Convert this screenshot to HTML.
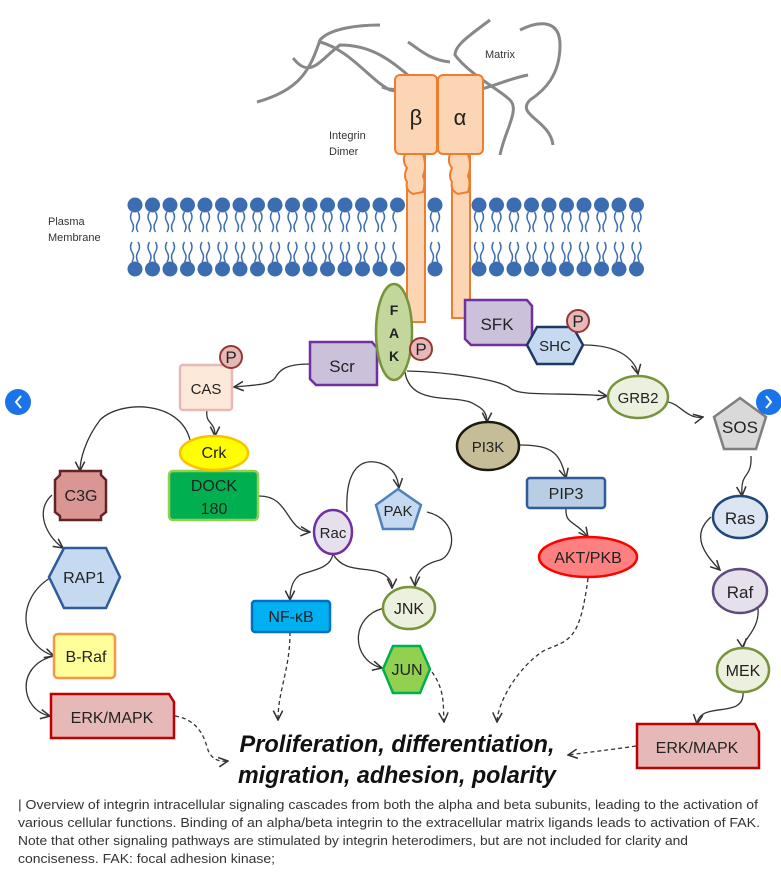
<!DOCTYPE html>
<html><head><meta charset="utf-8"><style>
html,body{margin:0;padding:0;background:#fff;}
svg{display:block;font-family:"Liberation Sans",sans-serif;}
</style></head><body>
<svg width="781" height="885" viewBox="0 0 781 885" xmlns="http://www.w3.org/2000/svg">
<defs>
<marker id="a" viewBox="0 0 10 10" refX="9" refY="5" markerWidth="9" markerHeight="9" orient="auto"><path d="M1,1 L9,5 L1,9" fill="none" stroke="#333" stroke-width="1.3"/></marker>
<g id="tailT"><path d="M-3,8 q-3,5 0,10 q3,5 0,10 M3,8 q3,5 0,10 q-3,5 0,10" fill="none" stroke="#3b6db0" stroke-width="1.6"/></g>
</defs>
<!-- matrix -->
<g fill="none" stroke="#888" stroke-width="3">
<path d="M257,102 C300,90 310,70 320,40 C330,28 360,25 380,25"/>
<path d="M293,58 C310,80 320,60 340,45 C380,45 400,70 420,85"/>
<path d="M320,42 C350,50 370,80 390,90 C410,95 420,80 450,82"/>
<path d="M382,87 C400,95 420,80 440,90 C470,100 500,80 528,75"/>
<path d="M490,20 C470,35 455,45 455,55 C470,75 500,90 510,100 C520,110 505,130 500,155"/>
<path d="M520,30 C540,20 560,20 560,45 C560,75 545,90 530,100 C515,115 550,120 553,145"/>
<path d="M408,42 C420,50 430,60 450,62"/>
</g>
<text x="485" y="58" font-size="11" fill="#333">Matrix</text>
<text x="329" y="139" font-size="11" fill="#333">Integrin</text>
<text x="329" y="155" font-size="11" fill="#333">Dimer</text>
<text x="48" y="225" font-size="11" fill="#333">Plasma</text>
<text x="48" y="241" font-size="11" fill="#333">Membrane</text>
<!-- membrane -->
<g id="mem">
<g fill="#3b6db0">
<circle cx="135" cy="205" r="7.5"/><circle cx="152.5" cy="205" r="7.5"/><circle cx="170" cy="205" r="7.5"/><circle cx="187.5" cy="205" r="7.5"/><circle cx="205" cy="205" r="7.5"/><circle cx="222.5" cy="205" r="7.5"/><circle cx="240" cy="205" r="7.5"/><circle cx="257.5" cy="205" r="7.5"/><circle cx="275" cy="205" r="7.5"/><circle cx="292.5" cy="205" r="7.5"/><circle cx="310" cy="205" r="7.5"/><circle cx="327.5" cy="205" r="7.5"/><circle cx="345" cy="205" r="7.5"/><circle cx="362.5" cy="205" r="7.5"/><circle cx="380" cy="205" r="7.5"/><circle cx="397.5" cy="205" r="7.5"/><circle cx="435" cy="205" r="7.5"/><circle cx="479" cy="205" r="7.5"/><circle cx="496.5" cy="205" r="7.5"/><circle cx="514" cy="205" r="7.5"/><circle cx="531.5" cy="205" r="7.5"/><circle cx="549" cy="205" r="7.5"/><circle cx="566.5" cy="205" r="7.5"/><circle cx="584" cy="205" r="7.5"/><circle cx="601.5" cy="205" r="7.5"/><circle cx="619" cy="205" r="7.5"/><circle cx="636.5" cy="205" r="7.5"/>
<circle cx="135" cy="269" r="7.5"/><circle cx="152.5" cy="269" r="7.5"/><circle cx="170" cy="269" r="7.5"/><circle cx="187.5" cy="269" r="7.5"/><circle cx="205" cy="269" r="7.5"/><circle cx="222.5" cy="269" r="7.5"/><circle cx="240" cy="269" r="7.5"/><circle cx="257.5" cy="269" r="7.5"/><circle cx="275" cy="269" r="7.5"/><circle cx="292.5" cy="269" r="7.5"/><circle cx="310" cy="269" r="7.5"/><circle cx="327.5" cy="269" r="7.5"/><circle cx="345" cy="269" r="7.5"/><circle cx="362.5" cy="269" r="7.5"/><circle cx="380" cy="269" r="7.5"/><circle cx="397.5" cy="269" r="7.5"/><circle cx="435" cy="269" r="7.5"/><circle cx="479" cy="269" r="7.5"/><circle cx="496.5" cy="269" r="7.5"/><circle cx="514" cy="269" r="7.5"/><circle cx="531.5" cy="269" r="7.5"/><circle cx="549" cy="269" r="7.5"/><circle cx="566.5" cy="269" r="7.5"/><circle cx="584" cy="269" r="7.5"/><circle cx="601.5" cy="269" r="7.5"/><circle cx="619" cy="269" r="7.5"/><circle cx="636.5" cy="269" r="7.5"/>
</g>
<path fill="none" stroke="#3b6db0" stroke-width="1.5" d="
M132,212 q-3,5 0,10 q3,5 0,10 M138,212 q3,5 0,10 q-3,5 0,10
M149.5,212 q-3,5 0,10 q3,5 0,10 M155.5,212 q3,5 0,10 q-3,5 0,10
M167,212 q-3,5 0,10 q3,5 0,10 M173,212 q3,5 0,10 q-3,5 0,10
M184.5,212 q-3,5 0,10 q3,5 0,10 M190.5,212 q3,5 0,10 q-3,5 0,10
M202,212 q-3,5 0,10 q3,5 0,10 M208,212 q3,5 0,10 q-3,5 0,10
M219.5,212 q-3,5 0,10 q3,5 0,10 M225.5,212 q3,5 0,10 q-3,5 0,10
M237,212 q-3,5 0,10 q3,5 0,10 M243,212 q3,5 0,10 q-3,5 0,10
M254.5,212 q-3,5 0,10 q3,5 0,10 M260.5,212 q3,5 0,10 q-3,5 0,10
M272,212 q-3,5 0,10 q3,5 0,10 M278,212 q3,5 0,10 q-3,5 0,10
M289.5,212 q-3,5 0,10 q3,5 0,10 M295.5,212 q3,5 0,10 q-3,5 0,10
M307,212 q-3,5 0,10 q3,5 0,10 M313,212 q3,5 0,10 q-3,5 0,10
M324.5,212 q-3,5 0,10 q3,5 0,10 M330.5,212 q3,5 0,10 q-3,5 0,10
M342,212 q-3,5 0,10 q3,5 0,10 M348,212 q3,5 0,10 q-3,5 0,10
M359.5,212 q-3,5 0,10 q3,5 0,10 M365.5,212 q3,5 0,10 q-3,5 0,10
M377,212 q-3,5 0,10 q3,5 0,10 M383,212 q3,5 0,10 q-3,5 0,10
M394.5,212 q-3,5 0,10 q3,5 0,10 M432,212 q-3,5 0,10 q3,5 0,10 M438,212 q3,5 0,10 q-3,5 0,10
M476,212 q-3,5 0,10 q3,5 0,10 M482,212 q3,5 0,10 q-3,5 0,10
M493.5,212 q-3,5 0,10 q3,5 0,10 M499.5,212 q3,5 0,10 q-3,5 0,10
M511,212 q-3,5 0,10 q3,5 0,10 M517,212 q3,5 0,10 q-3,5 0,10
M528.5,212 q-3,5 0,10 q3,5 0,10 M534.5,212 q3,5 0,10 q-3,5 0,10
M546,212 q-3,5 0,10 q3,5 0,10 M552,212 q3,5 0,10 q-3,5 0,10
M563.5,212 q-3,5 0,10 q3,5 0,10 M569.5,212 q3,5 0,10 q-3,5 0,10
M581,212 q-3,5 0,10 q3,5 0,10 M587,212 q3,5 0,10 q-3,5 0,10
M598.5,212 q-3,5 0,10 q3,5 0,10 M604.5,212 q3,5 0,10 q-3,5 0,10
M616,212 q-3,5 0,10 q3,5 0,10 M622,212 q3,5 0,10 q-3,5 0,10
M633.5,212 q-3,5 0,10 q3,5 0,10 M639.5,212 q3,5 0,10 q-3,5 0,10"/>
<path fill="none" stroke="#3b6db0" stroke-width="1.5" transform="translate(0,30)" d="
M132,212 q-3,5 0,10 q3,5 0,10 M138,212 q3,5 0,10 q-3,5 0,10
M149.5,212 q-3,5 0,10 q3,5 0,10 M155.5,212 q3,5 0,10 q-3,5 0,10
M167,212 q-3,5 0,10 q3,5 0,10 M173,212 q3,5 0,10 q-3,5 0,10
M184.5,212 q-3,5 0,10 q3,5 0,10 M190.5,212 q3,5 0,10 q-3,5 0,10
M202,212 q-3,5 0,10 q3,5 0,10 M208,212 q3,5 0,10 q-3,5 0,10
M219.5,212 q-3,5 0,10 q3,5 0,10 M225.5,212 q3,5 0,10 q-3,5 0,10
M237,212 q-3,5 0,10 q3,5 0,10 M243,212 q3,5 0,10 q-3,5 0,10
M254.5,212 q-3,5 0,10 q3,5 0,10 M260.5,212 q3,5 0,10 q-3,5 0,10
M272,212 q-3,5 0,10 q3,5 0,10 M278,212 q3,5 0,10 q-3,5 0,10
M289.5,212 q-3,5 0,10 q3,5 0,10 M295.5,212 q3,5 0,10 q-3,5 0,10
M307,212 q-3,5 0,10 q3,5 0,10 M313,212 q3,5 0,10 q-3,5 0,10
M324.5,212 q-3,5 0,10 q3,5 0,10 M330.5,212 q3,5 0,10 q-3,5 0,10
M342,212 q-3,5 0,10 q3,5 0,10 M348,212 q3,5 0,10 q-3,5 0,10
M359.5,212 q-3,5 0,10 q3,5 0,10 M365.5,212 q3,5 0,10 q-3,5 0,10
M377,212 q-3,5 0,10 q3,5 0,10 M383,212 q3,5 0,10 q-3,5 0,10
M394.5,212 q-3,5 0,10 q3,5 0,10 M432,212 q-3,5 0,10 q3,5 0,10 M438,212 q3,5 0,10 q-3,5 0,10
M476,212 q-3,5 0,10 q3,5 0,10 M482,212 q3,5 0,10 q-3,5 0,10
M493.5,212 q-3,5 0,10 q3,5 0,10 M499.5,212 q3,5 0,10 q-3,5 0,10
M511,212 q-3,5 0,10 q3,5 0,10 M517,212 q3,5 0,10 q-3,5 0,10
M528.5,212 q-3,5 0,10 q3,5 0,10 M534.5,212 q3,5 0,10 q-3,5 0,10
M546,212 q-3,5 0,10 q3,5 0,10 M552,212 q3,5 0,10 q-3,5 0,10
M563.5,212 q-3,5 0,10 q3,5 0,10 M569.5,212 q3,5 0,10 q-3,5 0,10
M581,212 q-3,5 0,10 q3,5 0,10 M587,212 q3,5 0,10 q-3,5 0,10
M598.5,212 q-3,5 0,10 q3,5 0,10 M604.5,212 q3,5 0,10 q-3,5 0,10
M616,212 q-3,5 0,10 q3,5 0,10 M622,212 q3,5 0,10 q-3,5 0,10
M633.5,212 q-3,5 0,10 q3,5 0,10 M639.5,212 q3,5 0,10 q-3,5 0,10"/>
</g>
<!-- integrin -->
<g fill="#fcd5b5" stroke="#ed7d31" stroke-width="2">
<rect x="407" y="150" width="18" height="172"/>
<rect x="452" y="150" width="18" height="168"/>
<path d="M405,154 q-3,8 2,14 q-4,8 0,14 q-2,8 6,12 l10,-2 q3,-10 0,-16 q4,-10 0,-22 z"/>
<path d="M450,154 q-3,8 2,14 q-4,8 0,14 q-2,8 6,12 l10,-2 q3,-10 0,-16 q4,-10 0,-22 z"/>
<rect x="395" y="75" width="42" height="79" rx="5"/>
<rect x="438" y="75" width="45" height="79" rx="5"/>
</g>
<text x="416" y="125" font-size="22" text-anchor="middle" fill="#222">β</text>
<text x="460" y="125" font-size="22" text-anchor="middle" fill="#222">α</text>
<!-- connectors -->
<g fill="none" stroke="#333" stroke-width="1.3" marker-end="url(#a)">
<path d="M310,364 C285,364 280,370 275,378 C270,385 255,385 234,387"/>
<path d="M207,410 C205,425 215,420 215,436"/>
<path d="M190,440 C180,400 120,400 100,420 C85,440 80,460 80,471"/>
<path d="M52,495 C35,510 45,535 63,548"/>
<path d="M50,578 C15,600 20,645 54,656"/>
<path d="M54,656 C15,665 20,710 50,716"/>
<path d="M258,496 C290,495 285,530 310,532"/>
<path d="M347,512 C345,470 360,460 375,462 C395,465 398,480 399,488"/>
<path d="M427,512 C460,520 455,555 440,560 C420,565 415,575 415,586"/>
<path d="M333,554 C330,570 310,570 300,575 C292,580 290,590 290,600"/>
<path d="M333,554 C345,575 370,565 385,575 C392,580 392,585 392,588"/>
<path d="M385,608 C350,615 350,660 382,668"/>
<path d="M405,372 C410,405 450,395 470,402 C480,407 487,410 487,422"/>
<path d="M520,445 C555,445 560,455 566,478"/>
<path d="M566,508 C565,525 575,520 588,537"/>
<path d="M407,371 C450,372 500,380 510,388 C520,397 560,392 607,396"/>
<path d="M584,345 C620,345 635,360 638,374"/>
<path d="M668,402 C680,404 688,420 703,417"/>
<path d="M751,456 C752,480 740,470 742,496"/>
<path d="M711,517 C690,535 705,555 720,570"/>
<path d="M758,608 C760,630 742,640 743,648"/>
<path d="M743,692 C745,720 700,700 697,724"/>
</g>
<g fill="none" stroke="#333" stroke-width="1.3" stroke-dasharray="4,3" marker-end="url(#a)">
<path d="M290,632 C290,670 278,690 278,720"/>
<path d="M432,672 C445,690 443,705 444,722"/>
<path d="M588,578 C580,640 570,640 545,650 C520,665 498,700 497,722"/>
<path d="M175,716 C200,720 205,740 208,750 C212,760 220,762 228,761"/>
<path d="M636,746 C610,750 590,752 568,755"/>
</g>
<!-- nodes -->
<g stroke-width="2.5">
<path d="M465,300 h62 l5,6 v39 h-61 l-6,-6 z" fill="#ccc1da" stroke="#7030a0"/>
<polygon points="527,345 537,327 573,327 583,345 573,364 537,364" fill="#c5d9f1" stroke="#1f3864"/>
<path d="M310,342 h62 l5,6 v37 h-61 l-6,-6 z" fill="#ccc1da" stroke="#7030a0"/>
<ellipse cx="394" cy="332" rx="18" ry="48" fill="#c3d69b" stroke="#77933c"/>
<rect x="180" y="365" width="52" height="45" rx="3" fill="#fde9d9" stroke="#e6b9b8"/>
<ellipse cx="638" cy="397" rx="30" ry="21" fill="#ebf1de" stroke="#77933c"/>
<polygon points="740,398 766,417 756,449 724,449 714,417" fill="#d9d9d9" stroke="#7f7f7f"/>
<ellipse cx="488" cy="446" rx="31" ry="24" fill="#c4bd97" stroke="#1d1b10"/>
<rect x="169" y="471" width="89" height="49" rx="4" fill="#00b050" stroke="#92d050"/>
<ellipse cx="214" cy="453" rx="34" ry="17" fill="#ffff00" stroke="#ffc000"/>
<polygon points="60,471 101,471 101,475 106,480 106,512 101,516 101,520 60,520 60,516 55,512 55,480 60,475" fill="#d99694" stroke="#632423"/>
<rect x="527" y="478" width="78" height="30" rx="3" fill="#b9cde5" stroke="#2e5c9a"/>
<polygon points="398,489 421,505 413,529 383,529 376,505" fill="#c5d9f1" stroke="#4f81bd"/>
<ellipse cx="333" cy="532" rx="19" ry="22" fill="#e5e0ec" stroke="#7030a0"/>
<ellipse cx="740" cy="517" rx="27" ry="21" fill="#dce6f2" stroke="#1f497d"/>
<ellipse cx="588" cy="557" rx="49" ry="20" fill="#ff8080" stroke="#ff0000"/>
<polygon points="49,577 64,548 106,548 120,577 106,608 64,608" fill="#c5d9f1" stroke="#2e5c9a"/>
<ellipse cx="740" cy="591" rx="27" ry="22" fill="#e5e0ec" stroke="#604a7b"/>
<rect x="252" y="601" width="78" height="31" rx="3" fill="#00b0f0" stroke="#0070c0"/>
<ellipse cx="409" cy="608" rx="26" ry="21" fill="#ebf1de" stroke="#77933c"/>
<rect x="54" y="634" width="61" height="44" rx="4" fill="#ffff99" stroke="#f79646"/>
<polygon points="383,669 393,646 420,646 430,669 420,693 393,693" fill="#92d050" stroke="#00b050"/>
<ellipse cx="743" cy="670" rx="26" ry="22" fill="#ebf1de" stroke="#77933c"/>
<path d="M51,694 h118 l5,8 v36 h-123 z" fill="#e6b9b8" stroke="#c00000"/>
<path d="M637,724 h118 l4,8 v36 h-122 z" fill="#e6b9b8" stroke="#c00000"/>
</g>
<g fill="#e6b9b8" stroke="#953735" stroke-width="2">
<circle cx="421" cy="349" r="11"/><circle cx="578" cy="321" r="11"/><circle cx="231" cy="357" r="11"/>
</g>
<g font-size="17" text-anchor="middle" fill="#222">
<text x="421" y="355">P</text><text x="578" y="327">P</text><text x="231" y="363">P</text>
<text x="497" y="330">SFK</text>
<text x="342" y="372">Scr</text>
<text x="394" y="315" font-size="14" font-weight="bold">F</text>
<text x="394" y="338" font-size="14" font-weight="bold">A</text>
<text x="394" y="361" font-size="14" font-weight="bold">K</text>
<text x="555" y="351" font-size="15">SHC</text>
<text x="206" y="394" font-size="15">CAS</text>
<text x="638" y="403" font-size="15">GRB2</text>
<text x="740" y="433">SOS</text>
<text x="488" y="452" font-size="15">PI3K</text>
<text x="214" y="458" font-size="16">Crk</text>
<text x="214" y="491" font-size="16">DOCK</text>
<text x="214" y="514" font-size="16">180</text>
<text x="81" y="501" font-size="16">C3G</text>
<text x="566" y="499" font-size="16">PIP3</text>
<text x="398" y="516" font-size="15">PAK</text>
<text x="333" y="538" font-size="15">Rac</text>
<text x="740" y="524">Ras</text>
<text x="588" y="563" font-size="16">AKT/PKB</text>
<text x="84" y="583" font-size="16">RAP1</text>
<text x="740" y="598">Raf</text>
<text x="291" y="622" font-size="16">NF-κB</text>
<text x="409" y="614" font-size="16">JNK</text>
<text x="86" y="662" font-size="16">B-Raf</text>
<text x="407" y="675" font-size="16">JUN</text>
<text x="743" y="676" font-size="16">MEK</text>
<text x="112" y="723" font-size="16">ERK/MAPK</text>
<text x="697" y="753" font-size="16">ERK/MAPK</text>
</g>
<g font-size="24" font-weight="bold" font-style="italic" fill="#111" text-anchor="middle">
<text x="397" y="752" textLength="315" lengthAdjust="spacingAndGlyphs">Proliferation, differentiation,</text>
<text x="397" y="783" textLength="318" lengthAdjust="spacingAndGlyphs">migration, adhesion, polarity</text>
</g>
<!-- nav -->
<circle cx="18" cy="402" r="13" fill="#1a73e8"/><path d="M21,396 l-5,6 l5,6" fill="none" stroke="#fff" stroke-width="2"/>
<circle cx="769" cy="402" r="13" fill="#1a73e8"/><path d="M766,396 l5,6 l-5,6" fill="none" stroke="#fff" stroke-width="2"/>
<!-- caption -->
<g font-size="13" fill="#333">
<text x="18" y="809" textLength="740" lengthAdjust="spacingAndGlyphs">| Overview of integrin intracellular signaling cascades from both the alpha and beta subunits, leading to the activation of</text>
<text x="18" y="827" textLength="742" lengthAdjust="spacingAndGlyphs">various cellular functions. Binding of an alpha/beta integrin to the extracellular matrix ligands leads to activation of FAK.</text>
<text x="18" y="845" textLength="670" lengthAdjust="spacingAndGlyphs">Note that other signaling pathways are stimulated by integrin heterodimers, but are not included for clarity and</text>
<text x="18" y="863" textLength="257" lengthAdjust="spacingAndGlyphs">conciseness. FAK: focal adhesion kinase;</text>
</g>
</svg>
</body></html>
